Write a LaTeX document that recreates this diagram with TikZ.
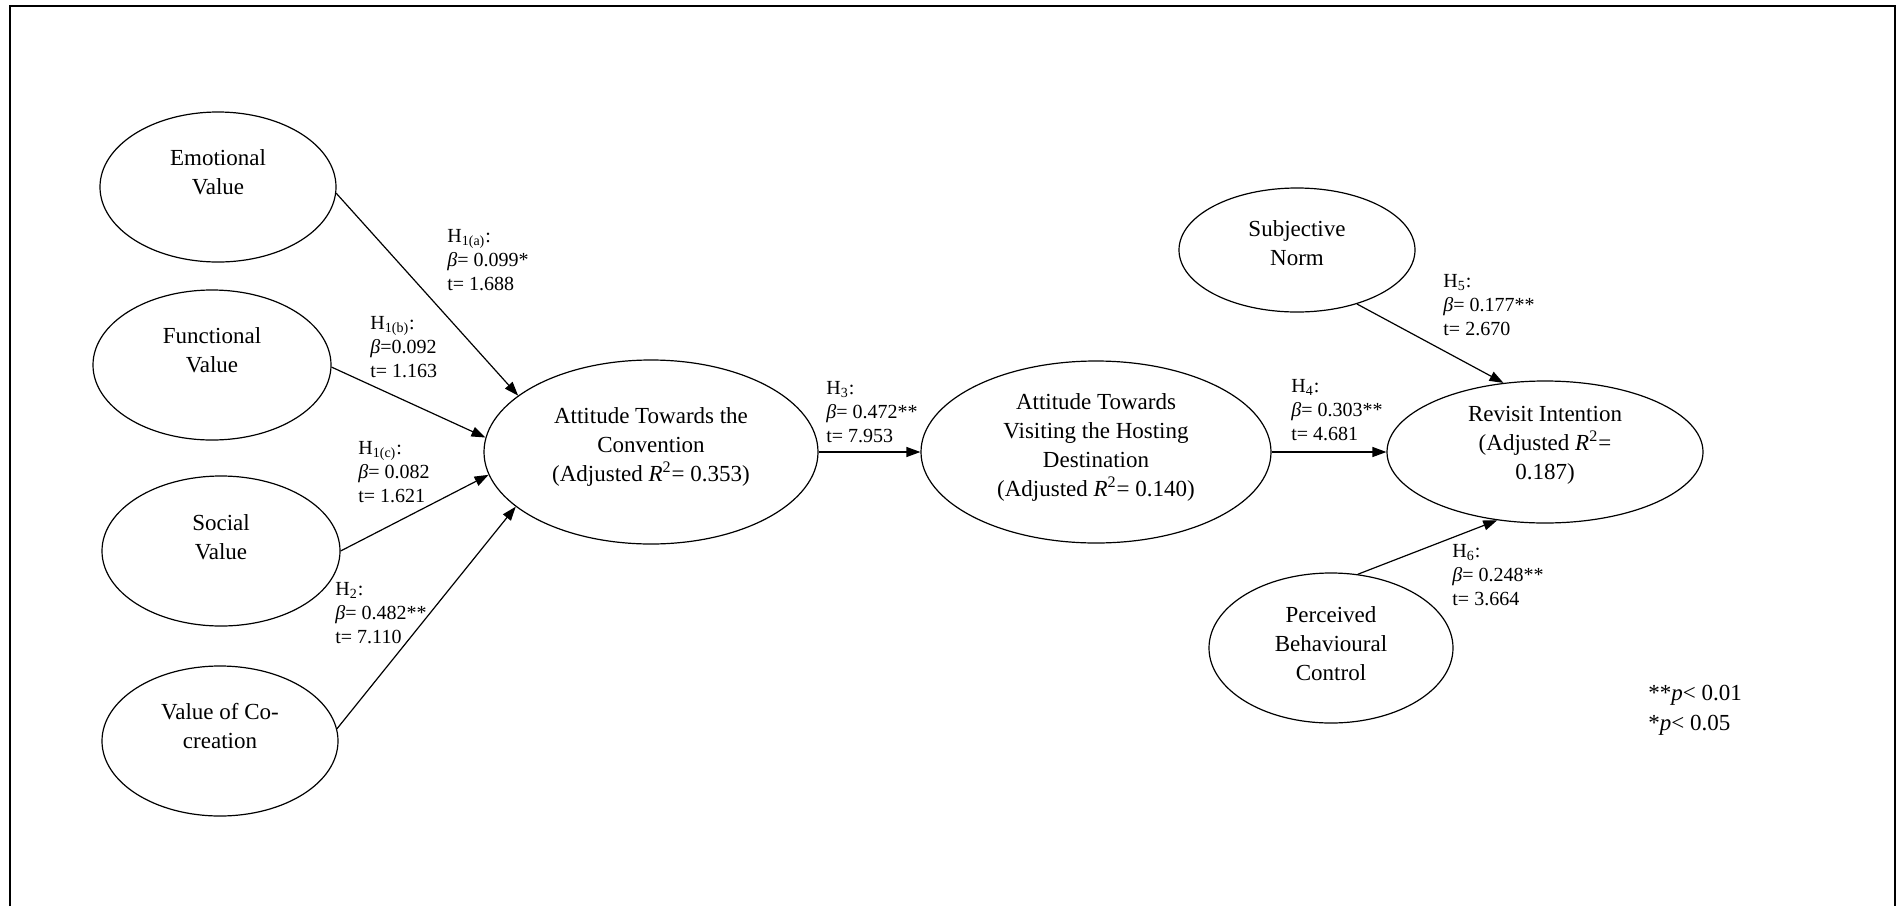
\documentclass[tikz,border=0pt]{standalone}
\usepackage{fontspec}
\setmainfont{Liberation Serif}
\usetikzlibrary{arrows.meta,shapes.geometric}
\newcommand{\bet}{{\itshape β}}
\newcommand{\adjR}{(Adjusted \textit{R}\textsuperscript{2}=}
\begin{document}
\begin{tikzpicture}[x=0.5pt,y=-0.5pt,
  construct/.style={draw, ellipse, line width=0.6pt, inner sep=0pt},
  ctext/.style={align=center, font=\fontsize{11.5pt}{14.5pt}\selectfont, inner sep=0pt},
  pathlabel/.style={align=left, anchor=west, font=\fontsize{10pt}{12pt}\selectfont, inner sep=0pt},
  arr/.style={line width=0.6pt, -{Triangle[length=7pt,width=5pt]}}]

\useasboundingbox (0,0) rectangle (1903,906);
% open frame (no bottom edge)
\draw[line width=1.1pt] (10,906) -- (10,6) -- (1895,6) -- (1895,906);

% constructs
\node[construct, minimum width=118pt, minimum height=75pt] (emo)  at (218,187) {};
\node[construct, minimum width=119pt, minimum height=75pt] (fun)  at (212,365) {};
\node[construct, minimum width=119pt, minimum height=75pt] (soc)  at (221,551) {};
\node[construct, minimum width=118pt, minimum height=75pt] (cocr) at (220,741) {};
\node[construct, minimum width=167pt, minimum height=92pt] (conv) at (651,452) {};
\node[construct, minimum width=175pt, minimum height=91pt] (vis)  at (1096,452) {};
\node[construct, minimum width=158pt, minimum height=71pt] (rev)  at (1545,452) {};
\node[construct, minimum width=118pt, minimum height=62pt] (subj) at (1297,250) {};
\node[construct, minimum width=122pt, minimum height=75pt] (perc) at (1331,648) {};

% construct names
\node[ctext] (emo-t)  at (218,172)  {Emotional\\Value};
\node[ctext] (fun-t)  at (212,350)  {Functional\\Value};
\node[ctext] (soc-t)  at (221,537)  {Social\\Value};
\node[ctext] (cocr-t) at (220,726)  {Value of Co-\\creation};
\node[ctext] (conv-t) at (651,447)  {Attitude Towards the\\Convention\\\adjR{} 0.353)};
\node[ctext] (vis-t)  at (1096,447) {Attitude Towards\\Visiting the Hosting\\Destination\\\adjR{} 0.140)};
\node[ctext] (rev-t)  at (1545,445) {Revisit Intention\\\adjR\\0.187)};
\node[ctext] (subj-t) at (1297,243) {Subjective\\Norm};
\node[ctext] (perc-t) at (1331,644) {Perceived\\Behavioural\\Control};

% paths
\draw[arr] (emo.-3)  -- (conv.157);
\draw[arr] (fun.-1)  -- (conv.175);
\draw[arr] (soc.east) -- (conv.188);
\draw[arr] (cocr.6)  -- (conv.202);
\draw[arr] (conv) -- (vis);
\draw[arr] (vis) -- (rev);
\draw[arr] (subj.-42) -- (rev.121);
\draw[arr] (perc.70)  -- (rev.-125);

% path coefficients
\node[pathlabel] (h1a) at (447,260)  {H\textsubscript{1(a)}:\\\bet= 0.099*\\t= 1.688};
\node[pathlabel] (h1b) at (370,347)  {H\textsubscript{1(b)}:\\\bet=0.092\\t= 1.163};
\node[pathlabel] (h1c) at (358,472)  {H\textsubscript{1(c)}:\\\bet= 0.082\\t= 1.621};
\node[pathlabel] (h2)  at (335,613)  {H\textsubscript{2}:\\\bet= 0.482**\\t= 7.110};
\node[pathlabel] (h3)  at (826,412)  {H\textsubscript{3}:\\\bet= 0.472**\\t= 7.953};
\node[pathlabel] (h4)  at (1291,410) {H\textsubscript{4}:\\\bet= 0.303**\\t= 4.681};
\node[pathlabel] (h5)  at (1443,305) {H\textsubscript{5}:\\\bet= 0.177**\\t= 2.670};
\node[pathlabel] (h6)  at (1452,575) {H\textsubscript{6}:\\\bet= 0.248**\\t= 3.664};

% significance key
\node[align=left, anchor=west, inner sep=0pt, font=\fontsize{11.5pt}{15pt}\selectfont] (key) at (1648,710)
  {**\textit{p}< 0.01\\*\textit{p}< 0.05};
\end{tikzpicture}
\end{document}
